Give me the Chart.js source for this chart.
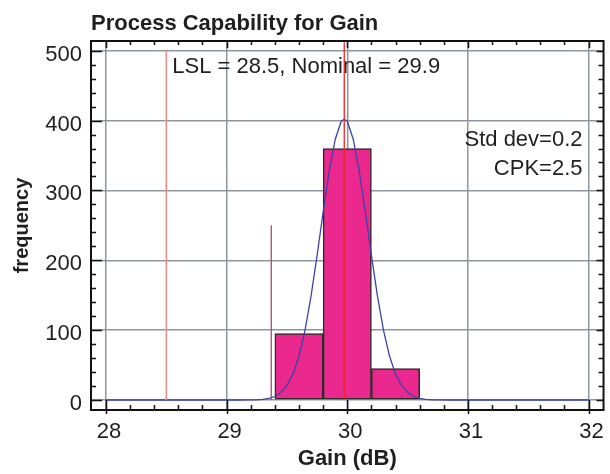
<!DOCTYPE html>
<html>
<head>
<meta charset="utf-8">
<script src="https://cdn.jsdelivr.net/npm/chart.js@4.4.1/dist/chart.umd.min.js"></script>
<style>
  body { margin: 0; background: #fff; }
  canvas { display: block; }
</style>
</head>
<body>
<canvas id="chart" width="610" height="474"></canvas>
<script>
// axis ticks
const xTicks = [28, 29, 30, 31, 32];
const yTicks = [0, 100, 200, 300, 400, 500];

// histogram bins (bin centres, width 0.4 dB)
const binCenters = [29.6, 30.0, 30.4];
const binCounts = [95, 360, 45];

// fitted normal curve
const curveX = [28, 29.1, 29.2, 29.25, 29.3, 29.35, 29.4, 29.45, 29.5, 29.55, 29.6, 29.65, 29.7, 29.75, 29.8, 29.85, 29.9, 29.95, 29.975,
                30.0, 30.05, 30.1, 30.15, 30.2, 30.25, 30.3, 30.35, 30.4, 30.45, 30.5, 30.55, 30.6, 30.65, 30.7, 30.75, 30.85, 32];
const curveY = [0, 0, 0.2, 0.4, 1, 2.4, 5, 11, 21, 37, 63, 100, 149, 207, 269, 327, 373, 399, 402,
                399, 373, 327, 269, 207, 149, 100, 63, 37, 21, 11, 5, 2.4, 1, 0.4, 0.2, 0, 0];

// marker lines
const lslValue = 28.5;
const lslTop = 500;
const meanValue = 29.975;
const meanTop = 512;
const sigmaMarkX = 29.37;
const sigmaMarkTop = 250;

const specText = "LSL = 28.5, Nominal = 29.9";
const statsText = ["Std dev=0.2", "CPK=2.5"];

const fontFamily = "'Liberation Sans', Arial, Helvetica, sans-serif";
Chart.defaults.font.family = fontFamily;
Chart.defaults.color = '#1f1f1f';

const frame = {
  id: 'frame',
  beforeDatasetsDraw(chart) {
    const {ctx, chartArea: a, scales: {x}} = chart;
    ctx.save();
    ctx.fillStyle = '#1f1f1f';
    ctx.font = "22px " + fontFamily;
    ctx.textBaseline = 'alphabetic';
    ctx.textAlign = 'left';
    ctx.fillText(specText, x.getPixelForValue(lslValue) + 6, a.top + 31.7);
    ctx.textAlign = 'right';
    ctx.fillText(statsText[0], a.right - 21, a.top + 105);
    ctx.fillText(statsText[1], a.right - 21, a.top + 134);
    ctx.restore();
  },
  afterDatasetsDraw(chart) {
    const {ctx, chartArea: a, scales: {x, y}} = chart;
    ctx.save();
    ctx.strokeStyle = '#111';
    ctx.lineWidth = 1.5;
    ctx.beginPath();
    // x ticks every 0.2
    for (let i = 0; i <= 20; i++) {
      const v = 28 + i * 0.2;
      const px = Math.round(x.getPixelForValue(v)) + 0.5;
      const major = i % 5 === 0;
      ctx.moveTo(px, a.bottom + (major ? 4 : 0));
      ctx.lineTo(px, a.bottom - (major ? 10 : 5));
      ctx.moveTo(px, a.top);
      ctx.lineTo(px, a.top + (major ? 7 : 4));
    }
    // y ticks every 20
    for (let i = 0; i <= 25; i++) {
      const v = i * 20;
      const py = Math.round(y.getPixelForValue(v)) + 0.5;
      const major = i % 5 === 0;
      ctx.moveTo(a.left, py);
      ctx.lineTo(a.left + (major ? 11 : 5), py);
      ctx.moveTo(a.right, py);
      ctx.lineTo(a.right - (major ? 7 : 5), py);
    }
    ctx.stroke();
    ctx.lineWidth = 2;
    ctx.strokeRect(a.left, a.top, a.right - a.left, a.bottom - a.top);
    ctx.restore();
  }
};

new Chart(document.getElementById('chart'), {
  type: 'bar',
  data: {
    datasets: [
      {
        type: 'line',
        data: [{x: meanValue, y: 0}, {x: meanValue, y: meanTop}],
        borderColor: '#ee2424',
        borderWidth: 1.3,
        pointRadius: 0,
        order: 1
      },
      {
        type: 'line',
        data: [{x: lslValue, y: 0}, {x: lslValue, y: lslTop}],
        borderColor: '#f28a8a',
        borderWidth: 1.5,
        pointRadius: 0,
        order: 2
      },
      {
        type: 'line',
        data: [{x: sigmaMarkX, y: 0}, {x: sigmaMarkX, y: sigmaMarkTop}],
        borderColor: '#a04a78',
        borderWidth: 1.3,
        pointRadius: 0,
        order: 3
      },
      {
        type: 'line',
        data: curveX.map((v, i) => ({x: v, y: curveY[i]})),
        borderColor: '#3a44aa',
        borderWidth: 1.3,
        pointRadius: 0,
        tension: 0,
        order: 4
      },
      {
        type: 'bar',
        data: binCenters.map((v, i) => ({x: v, y: binCounts[i]})),
        backgroundColor: '#ea288e',
        borderColor: '#2a2a2a',
        borderWidth: 1.5,
        borderSkipped: false,
        barPercentage: 1,
        categoryPercentage: 1,
        grouped: false,
        order: 5
      }
    ]
  },
  options: {
    responsive: false,
    animation: false,
    events: [],
    layout: {padding: {top: 0, right: 6, bottom: 0, left: 0}},
    plugins: {
      legend: {display: false},
      tooltip: {enabled: false},
      title: {
        display: true,
        text: 'Process Capability for Gain',
        align: 'start',
        fullSize: false,
        color: '#1f1f1f',
        font: {size: 22, weight: 'bold'},
        padding: {top: 10.8, bottom: 3.8}
      }
    },
    scales: {
      x: {
        type: 'linear',
        min: 27.876,
        max: 32.124,
        offset: false,
        grid: {color: '#8f969d', lineWidth: 1.5, drawTicks: false, offset: false},
        border: {display: false},
        ticks: {font: {size: 22}, padding: 9, labelOffset: 3, maxRotation: 0},
        afterBuildTicks: s => { s.ticks = xTicks.map(v => ({value: v})); },
        afterFit: s => { s.height = 64; },
        title: {display: true, text: 'Gain (dB)', font: {size: 22, weight: 'bold'}, padding: {top: 0, bottom: 1.8}}
      },
      y: {
        type: 'linear',
        min: -14.3,
        max: 513.9,
        grid: {color: '#8f969d', lineWidth: 1.5, drawTicks: false},
        border: {display: false},
        ticks: {font: {size: 22}, padding: 9, labelOffset: 4},
        afterBuildTicks: s => { s.ticks = yTicks.map(v => ({value: v})); },
        afterFit: s => { s.width = 91; },
        title: {display: true, text: 'frequency', font: {size: 20, weight: 'bold'}, padding: {top: 10, bottom: 0}}
      }
    }
  },
  plugins: [frame]
});
</script>
</body>
</html>
